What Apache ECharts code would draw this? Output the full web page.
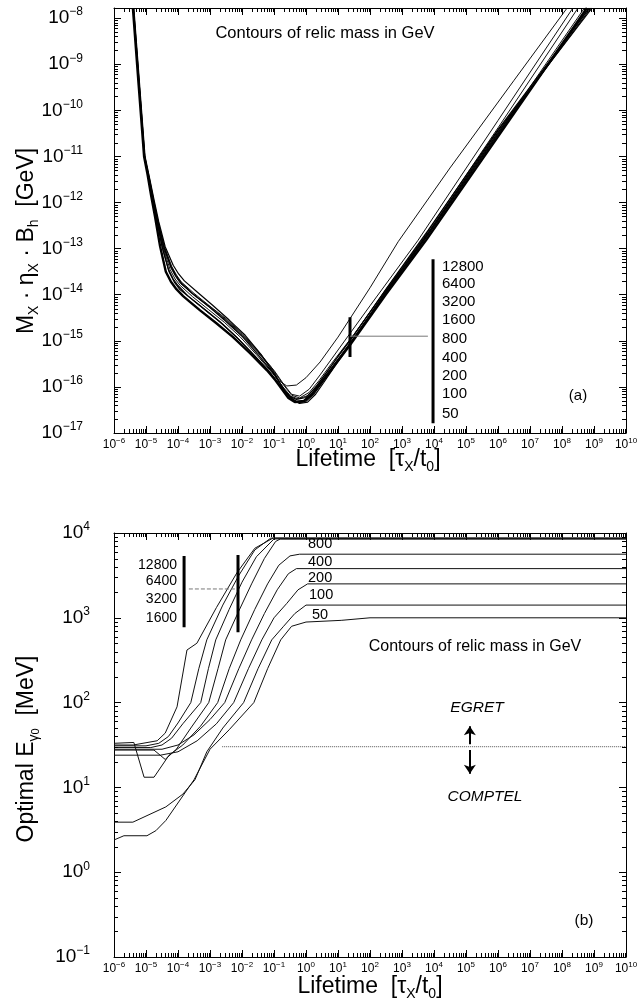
<!DOCTYPE html>
<html>
<head>
<meta charset="utf-8">
<title>Contours of relic mass</title>
<script src="https://cdn.jsdelivr.net/npm/echarts@6.0.0/dist/echarts.min.js"></script>
<style>
  html, body { margin: 0; padding: 0; background: #fff; }
  #chart { width: 642px; height: 1000px; }
</style>
</head>
<body>
<div id="chart"></div>
<script>
  // every value below is a log10: x = log10(tau_X / t0)
  // panel (a): y = log10(M_X * eta_X * B_h / GeV)
  // panel (b): y = log10(optimal E_gamma0 / MeV)
  var FONT = '"Liberation Sans", Arial, Helvetica, sans-serif';

  var massLabels = ['12800', '6400', '3200', '1600', '800', '400', '200', '100', '50'];
  var plateauLabels = ['800', '400', '200', '100', '50'];
  var legendLabelsB = ['12800', '6400', '3200', '1600'];

  var aM12800 = [[-5.41,-7.78],[-5.23,-9.45],[-5.06,-11.0],[-4.95,-11.4],[-4.84,-11.85],[-4.72,-12.3],[-4.56,-12.95],[-4.38,-13.5],[-4.22,-13.72],[-4.05,-13.88],[-3.84,-14.03],[-3.6,-14.17],[-3.31,-14.34],[-2.8,-14.62],[-2.28,-14.92],[-1.75,-15.27],[-1.22,-15.64],[-0.95,-15.86],[-0.75,-16.05],[-0.55,-16.24],[-0.35,-16.33],[-0.1,-16.32],[0.15,-16.19],[0.4,-15.97],[0.8,-15.62],[1.375,-15.09],[2.5,-13.99],[3.75,-12.82],[6.0,-10.57],[8.78,-7.78]];
  var aM6400 = [[-5.40,-7.78],[-5.05,-11.0],[-4.93,-11.42],[-4.8,-11.88],[-4.68,-12.32],[-4.5,-12.95],[-4.3,-13.45],[-4.15,-13.66],[-4.0,-13.8],[-3.7,-14.02],[-3.2,-14.3],[-2.7,-14.58],[-2.2,-14.9],[-1.7,-15.25],[-1.2,-15.62],[-0.95,-15.84],[-0.8,-15.98],[-0.5,-16.23],[-0.3,-16.31],[-0.05,-16.29],[0.2,-16.13],[0.45,-15.91],[0.85,-15.54],[1.4,-15.03],[2.5,-13.95],[3.8,-12.72],[6.0,-10.52],[8.84,-7.78]];
  var aM3200 = [[-5.39,-7.78],[-5.04,-11.0],[-4.9,-11.46],[-4.77,-11.92],[-4.64,-12.36],[-4.45,-12.96],[-4.22,-13.4],[-4.06,-13.6],[-3.9,-13.75],[-3.55,-13.98],[-3.0,-14.28],[-2.5,-14.58],[-2.0,-14.9],[-1.5,-15.3],[-1.0,-15.72],[-0.7,-16.04],[-0.45,-16.26],[-0.25,-16.34],[0.0,-16.31],[0.25,-16.15],[0.5,-15.92],[0.9,-15.52],[1.45,-14.99],[2.5,-13.93],[3.85,-12.64],[6.0,-10.48],[8.9,-7.78]];
  var aM1600 = [[-5.38,-7.78],[-5.03,-11.0],[-4.88,-11.5],[-4.74,-11.97],[-4.6,-12.42],[-4.4,-12.96],[-4.15,-13.36],[-3.98,-13.55],[-3.8,-13.7],[-3.4,-13.94],[-2.9,-14.24],[-2.4,-14.55],[-1.9,-14.88],[-1.4,-15.3],[-0.95,-15.76],[-0.65,-16.1],[-0.4,-16.29],[-0.2,-16.36],[0.05,-16.33],[0.3,-16.16],[0.55,-15.91],[0.95,-15.5],[1.5,-14.96],[2.5,-13.92],[3.9,-12.57],[6.0,-10.44],[8.94,-7.78]];
  var aM800 = [[-5.40,-7.78],[-5.05,-11.0],[-4.92,-11.45],[-4.79,-11.93],[-4.66,-12.4],[-4.48,-13.0],[-4.28,-13.5],[-4.12,-13.72],[-3.95,-13.88],[-3.6,-14.08],[-3.1,-14.36],[-2.6,-14.64],[-2.1,-14.97],[-1.6,-15.34],[-1.1,-15.72],[-0.75,-16.02],[-0.5,-16.21],[-0.3,-16.27],[0.0,-16.23],[0.3,-16.01],[0.6,-15.73],[1.0,-15.34],[1.5,-14.88],[2.5,-13.88],[3.82,-12.6],[6.0,-10.42],[8.86,-7.78]];
  var aM400 = [[-5.40,-7.78],[-5.05,-11.0],[-4.9,-11.5],[-4.76,-11.98],[-4.62,-12.45],[-4.42,-13.0],[-4.2,-13.4],[-4.05,-13.59],[-3.9,-13.74],[-3.5,-14.0],[-3.0,-14.28],[-2.5,-14.56],[-2.0,-14.88],[-1.5,-15.26],[-1.0,-15.66],[-0.7,-15.96],[-0.45,-16.18],[-0.2,-16.24],[0.1,-16.12],[0.4,-15.87],[0.8,-15.49],[1.5,-14.86],[2.5,-13.88],[3.66,-12.78],[6.0,-10.38],[8.5,-7.78]];
  var aM200 = [[-5.40,-7.78],[-5.05,-11.0],[-4.9,-11.48],[-4.77,-11.95],[-4.63,-12.42],[-4.43,-12.98],[-4.22,-13.42],[-4.07,-13.61],[-3.92,-13.76],[-3.5,-14.0],[-3.0,-14.26],[-2.5,-14.54],[-2.0,-14.86],[-1.5,-15.24],[-1.0,-15.64],[-0.7,-15.94],[-0.45,-16.16],[-0.2,-16.2],[0.1,-16.05],[0.44,-15.74],[1.0,-15.2],[2.0,-14.24],[3.5,-12.82],[6.0,-10.22],[8.34,-7.78]];
  var aM100 = [[-5.40,-7.78],[-5.05,-11.0],[-4.91,-11.47],[-4.78,-11.94],[-4.65,-12.4],[-4.46,-12.98],[-4.25,-13.45],[-4.09,-13.66],[-3.93,-13.8],[-3.55,-14.04],[-3.05,-14.32],[-2.55,-14.6],[-2.05,-14.92],[-1.55,-15.3],[-1.05,-15.7],[-0.72,-16.0],[-0.48,-16.2],[-0.25,-16.26],[0.05,-16.19],[0.35,-15.96],[0.7,-15.63],[1.2,-15.15],[2.5,-13.9],[3.72,-12.78],[6.0,-10.5],[8.7,-7.78]];
  var aM50 = [[-5.40,-7.78],[-5.05,-11.0],[-4.9,-11.48],[-4.77,-11.94],[-4.63,-12.4],[-4.42,-12.96],[-4.2,-13.38],[-4.05,-13.57],[-3.9,-13.72],[-3.5,-13.97],[-3.0,-14.25],[-2.5,-14.52],[-2.0,-14.84],[-1.5,-15.22],[-1.1,-15.56],[-0.85,-15.86],[-0.6,-15.98],[-0.3,-15.96],[0.0,-15.8],[0.44,-15.46],[1.0,-14.92],[2.0,-13.85],[2.88,-12.85],[4.5,-11.25],[6.5,-9.35],[8.16,-7.78]];

  var bM12800 = [[-6,1.50],[-5.4,1.50],[-4.65,1.55],[-4.4,1.64],[-4.03,1.95],[-3.72,2.62],[-3.41,2.70],[-2.8,3.12],[-2.16,3.53],[-1.6,3.82],[-1.03,3.94],[10,3.94]];
  var bM6400 = [[-6,1.49],[-5.0,1.49],[-4.6,1.52],[-4.3,1.6],[-4.0,1.76],[-3.6,2.0],[-3.35,2.4],[-3.10,2.74],[-2.6,3.15],[-2.1,3.5],[-1.6,3.8],[-1.1,3.94],[10,3.94]];
  var bM3200 = [[-6,1.47],[-4.85,1.47],[-4.5,1.5],[-4.2,1.58],[-3.85,1.75],[-3.29,2.0],[-3.05,2.4],[-2.82,2.74],[-2.4,3.1],[-2.0,3.42],[-1.55,3.72],[-1.0,3.93],[10,3.93]];
  var bM1600 = [[-6,1.44],[-4.75,1.44],[-4.4,1.33],[-4.05,1.45],[-3.6,1.7],[-3.04,2.0],[-2.75,2.4],[-2.51,2.74],[-2.1,3.08],[-1.7,3.4],[-1.3,3.7],[-0.95,3.9],[-0.8,3.93],[10,3.93]];
  var bM800 = [[-6,1.52],[-5.38,1.53],[-5.06,1.12],[-4.75,1.12],[-4.28,1.38],[-3.85,1.5],[-3.3,1.72],[-2.76,2.0],[-2.4,2.4],[-2.04,2.74],[-1.6,3.1],[-1.2,3.4],[-0.85,3.62],[-0.5,3.73],[-0.2,3.75],[10,3.75]];
  var bM400 = [[-6,1.45],[-4.5,1.45],[-4.0,1.5],[-3.5,1.62],[-3.0,1.8],[-2.54,2.0],[-2.1,2.4],[-1.70,2.74],[-1.3,3.05],[-0.9,3.33],[-0.55,3.52],[-0.3,3.58],[10,3.58]];
  var bM200 = [[-6,1.38],[-4.55,1.38],[-4.0,1.42],[-3.4,1.55],[-2.8,1.75],[-2.26,2.0],[-1.8,2.4],[-1.38,2.74],[-1.0,3.0],[-0.6,3.17],[-0.25,3.33],[0.05,3.40],[10,3.40]];
  var bM100 = [[-6,0.59],[-5.41,0.59],[-4.38,0.77],[-3.85,0.92],[-3.47,1.09],[-3.1,1.42],[-2.6,1.7],[-1.95,2.0],[-1.5,2.4],[-1.07,2.74],[-0.7,2.9],[-0.35,3.05],[0.0,3.15],[10,3.15]];
  var bM50 = [[-6,0.38],[-5.69,0.43],[-4.97,0.43],[-4.69,0.49],[-4.38,0.61],[-3.5,1.09],[-3.0,1.45],[-2.4,1.68],[-1.63,2.0],[-1.2,2.4],[-0.79,2.74],[-0.45,2.9],[0.0,2.95],[1.1,2.97],[2.0,3.0],[10,3.0]];

  // EGRET / COMPTEL boundary at 30 MeV
  var egretLimit = [[-2.62,1.48],[10,1.48]];

  // legend marks drawn in the panels
  var aMarkerBar = [[3.97,-13.23],[3.97,-16.79]];
  var aMarkerTick = [[1.375,-14.49],[1.375,-15.35]];
  var aMarkerLink = [[1.375,-14.90],[3.81,-14.90]];
  var bMarkerBar = [[-3.81,3.73],[-3.81,2.89]];
  var bMarkerTick = [[-2.125,3.74],[-2.125,2.83]];
  var bMarkerLink = [[-3.66,3.34],[-2.16,3.34]];
  var egretArrow = [[5.12,1.51],[5.12,1.72]];
  var comptelArrow = [[5.12,1.44],[5.12,1.16]];

  var rangeTau = [-6, 10];
  var rangeA = [-17, -7.78];
  var rangeB = [-1, 4];

  var chart = echarts.init(document.getElementById('chart'));

  function powLabel(v) {
    if (Math.abs(v - Math.round(v)) > 1e-6) return '';
    var n = Math.round(v);
    return '{b|10}{s|' + (n < 0 ? '\u2212' + (-n) : n) + '}';
  }

  function makeAxes(gi, xr, yr, yMargin) {
    var line = { show: true, onZero: false, lineStyle: { color: '#000', width: 1 } };
    var tick = { show: true, inside: true, length: 7, lineStyle: { color: '#000', width: 1 } };
    var xs = [
      { type: 'value', gridIndex: gi, position: 'bottom', min: xr[0], max: xr[1], interval: 1,
        axisLine: line, axisTick: tick, splitLine: { show: false },
        axisLabel: { show: true, margin: 4, formatter: powLabel, showMinLabel: true, showMaxLabel: true,
          rich: { b: { fontSize: 12, fontFamily: FONT, color: '#000', lineHeight: 16 },
                  s: { fontSize: 8, fontFamily: FONT, color: '#000', lineHeight: 8, verticalAlign: 'top' } } } },
      { type: 'value', gridIndex: gi, position: 'top', min: xr[0], max: xr[1], interval: 1,
        axisLine: line, axisTick: tick, splitLine: { show: false }, axisLabel: { show: false } }
    ];
    var ys = [
      { type: 'value', gridIndex: gi, position: 'left', min: yr[0], max: yr[1], interval: 1,
        axisLine: line, axisTick: tick, splitLine: { show: false },
        axisLabel: { show: true, margin: yMargin, formatter: powLabel, showMinLabel: true, showMaxLabel: true,
          rich: { b: { fontSize: 19, fontFamily: FONT, color: '#000', lineHeight: 24 },
                  s: { fontSize: 12, fontFamily: FONT, color: '#000', lineHeight: 12, verticalAlign: 'top' } } } },
      { type: 'value', gridIndex: gi, position: 'right', min: yr[0], max: yr[1], interval: 1,
        axisLine: line, axisTick: tick, splitLine: { show: false }, axisLabel: { show: false } }
    ];
    return { x: xs, y: ys };
  }

  // minor ticks at 2..9 within each decade, on all four sides
  function minorItems(xr, yr) {
    var out = [], d, k, v;
    for (d = xr[0]; d < xr[1]; d++) {
      for (k = 2; k <= 9; k++) { v = d + Math.log10(k); if (v < xr[1]) out.push([v, yr[0], 0]); }
    }
    for (d = Math.floor(yr[0]); d < yr[1]; d++) {
      for (k = 2; k <= 9; k++) { v = d + Math.log10(k); if (v < yr[1] && v > yr[0]) out.push([xr[0], v, 1]); }
    }
    return out;
  }

  function minorSeries(gi, xr, yr) {
    return {
      type: 'custom', xAxisIndex: gi * 2, yAxisIndex: gi * 2, silent: true, z: 5,
      encode: { x: 0, y: 1 },
      data: minorItems(xr, yr),
      renderItem: function (params, api) {
        var cs = params.coordSys;
        var p = api.coord([api.value(0), api.value(1)]);
        var st = { stroke: '#000', lineWidth: 1 };
        var L = 4;
        if (api.value(2) === 0) {
          var x = Math.round(p[0]) + 0.5;
          return { type: 'group', children: [
            { type: 'line', shape: { x1: x, y1: cs.y + cs.height, x2: x, y2: cs.y + cs.height - L }, style: st },
            { type: 'line', shape: { x1: x, y1: cs.y, x2: x, y2: cs.y + L }, style: st }
          ] };
        }
        var y = Math.round(p[1]) + 0.5;
        return { type: 'group', children: [
          { type: 'line', shape: { x1: cs.x, y1: y, x2: cs.x + L, y2: y }, style: st },
          { type: 'line', shape: { x1: cs.x + cs.width, y1: y, x2: cs.x + cs.width - L, y2: y }, style: st }
        ] };
      }
    };
  }

  function curve(data, gi, width, color, dash) {
    return {
      type: 'line', xAxisIndex: gi * 2, yAxisIndex: gi * 2, data: data,
      symbol: 'none', smooth: false, silent: true,
      lineStyle: { color: color || '#000', width: width, type: dash || 'solid' }
    };
  }

  function arrow(data, gi) {
    return {
      type: 'lines', coordinateSystem: 'cartesian2d', xAxisIndex: gi * 2, yAxisIndex: gi * 2,
      symbol: ['none', 'arrow'], symbolSize: 9, silent: true,
      lineStyle: { color: '#000', width: 2, opacity: 1 },
      data: [{ coords: data }]
    };
  }

  var axA = makeAxes(0, rangeTau, rangeA, 31);
  var axB = makeAxes(1, rangeTau, rangeB, 24);

  var series = [
    curve(aM50, 0, 1, '#111'),
    curve(aM100, 0, 1, '#111'),
    curve(aM200, 0, 1, '#111'),
    curve(aM400, 0, 1, '#111'),
    curve(aM800, 0, 1.2, '#000'),
    curve(aM1600, 0, 1.2, '#000'),
    curve(aM3200, 0, 1.2, '#000'),
    curve(aM6400, 0, 1.2, '#000'),
    curve(aM12800, 0, 2.4, '#000'),
    curve(aMarkerBar, 0, 3, '#000'),
    curve(aMarkerTick, 0, 3, '#000'),
    curve(aMarkerLink, 0, 1, '#777'),
    curve(bM12800, 1, 1, '#111'),
    curve(bM6400, 1, 1, '#111'),
    curve(bM3200, 1, 1, '#111'),
    curve(bM1600, 1, 1, '#111'),
    curve(bM800, 1, 1, '#111'),
    curve(bM400, 1, 1, '#111'),
    curve(bM200, 1, 1, '#111'),
    curve(bM100, 1, 1, '#111'),
    curve(bM50, 1, 1, '#111'),
    curve(egretLimit, 1, 1, '#555', 'dotted'),
    curve(bMarkerBar, 1, 3, '#000'),
    curve(bMarkerTick, 1, 3, '#000'),
    curve(bMarkerLink, 1, 1, '#777', 'dashed'),
    arrow(egretArrow, 1),
    arrow(comptelArrow, 1),
    minorSeries(0, rangeTau, rangeA),
    minorSeries(1, rangeTau, rangeB)
  ];

  function txt(x, y, text, size, align, extra) {
    var el = { type: 'text', x: x, y: y, silent: true, z: 10,
      style: { text: text, fontFamily: FONT, fontSize: size, fill: '#000',
               align: align || 'center', verticalAlign: 'middle' } };
    if (extra) for (var k in extra) el.style[k] = extra[k];
    return el;
  }

  var nameRich = {
    m: { fontSize: 23, fontFamily: FONT, fill: '#000', lineHeight: 28 },
    s: { fontSize: 14, fontFamily: FONT, fill: '#000', lineHeight: 14, verticalAlign: 'bottom' },
    ss: { fontSize: 11, fontFamily: FONT, fill: '#000', lineHeight: 11, verticalAlign: 'bottom' }
  };

  var graphics = [
    txt(325, 33, 'Contours of relic mass in GeV', 16.5),
    txt(578, 396, '(a)', 15),
    txt(475, 647, 'Contours of relic mass in GeV', 16),
    txt(584, 921, '(b)', 15.5),
    txt(477, 708, 'EGRET', 15.5, 'center', { fontStyle: 'italic' }),
    txt(485, 797, 'COMPTEL', 15.5, 'center', { fontStyle: 'italic' })
  ];

  var legendAY = [267, 284, 302, 320, 339, 358, 376, 394, 414];
  massLabels.forEach(function (t, i) { graphics.push(txt(442, legendAY[i], t, 15, 'left')); });
  var legendBY = [565, 581, 599, 618];
  legendLabelsB.forEach(function (t, i) { graphics.push(txt(177, legendBY[i], t, 14, 'right')); });
  var plateauY = [544, 562, 578, 595, 615];
  var plateauX = [308, 308, 308, 309, 312];
  plateauLabels.forEach(function (t, i) { graphics.push(txt(plateauX[i], plateauY[i], t, 14.5, 'left')); });

  // axis titles
  var yNameA = txt(27, 241, '{m|M}{s|X}{m| \u00b7 \u03b7}{s|X}{m| \u00b7 B}{s|h}{m|  [GeV]}', 23, 'center', { rich: nameRich });
  yNameA.rotation = Math.PI / 2;
  var yNameB = txt(27, 749, '{m|Optimal E}{s|\u03b3}{ss|0}{m|  [MeV]}', 23, 'center', { rich: nameRich });
  yNameB.rotation = Math.PI / 2;
  graphics.push(yNameA, yNameB);
  graphics.push(txt(368, 460, '{m|Lifetime  [\u03c4}{s|X}{m|/t}{s|0}{m|]}', 23, 'center', { rich: nameRich }));
  graphics.push(txt(370, 987, '{m|Lifetime  [\u03c4}{s|X}{m|/t}{s|0}{m|]}', 23, 'center', { rich: nameRich }));

  chart.setOption({
    animation: false,
    backgroundColor: '#fff',
    textStyle: { fontFamily: FONT },
    grid: [
      { left: 114, top: 8, width: 512, height: 425, containLabel: false, outerBoundsMode: 'none' },
      { left: 114, top: 533, width: 512, height: 424, containLabel: false, outerBoundsMode: 'none' }
    ],
    xAxis: axA.x.concat(axB.x),
    yAxis: axA.y.concat(axB.y),
    series: series,
    graphic: graphics
  });
</script>
</body>
</html>
